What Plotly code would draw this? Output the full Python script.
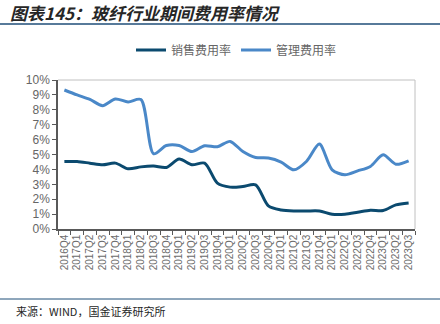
import plotly.graph_objects as go

quarters = ["2016Q4",
            "2017Q1", "2017Q2", "2017Q3", "2017Q4",
            "2018Q1", "2018Q2", "2018Q3", "2018Q4",
            "2019Q1", "2019Q2", "2019Q3", "2019Q4",
            "2020Q1", "2020Q2", "2020Q3", "2020Q4",
            "2021Q1", "2021Q2", "2021Q3", "2021Q4",
            "2022Q1", "2022Q2", "2022Q3", "2022Q4",
            "2023Q1", "2023Q2", "2023Q3"]

sales_rate = [4.53, 4.53, 4.42, 4.31, 4.42, 4.04, 4.17, 4.22, 4.13, 4.69,
              4.31, 4.42, 3.08, 2.81, 2.85, 2.96, 1.55, 1.28, 1.21, 1.21,
              1.21, 0.99, 0.99, 1.12, 1.26, 1.24, 1.62, 1.75]

mgmt_rate = [9.33, 9.0, 8.7, 8.28, 8.73, 8.53, 8.69, 5.05, 5.6, 5.6,
             5.2, 5.59, 5.52, 5.88, 5.2, 4.8, 4.76, 4.49, 3.97, 4.55,
             5.7, 3.97, 3.64, 3.9, 4.2, 4.98, 4.35, 4.58]

y_ticks = [0, 1, 2, 3, 4, 5, 6, 7, 8, 9, 10]
y_tick_labels = [f"{v}%" for v in y_ticks]

title_text = "图表145：玻纤行业期间费用率情况"
source_text = "来源：WIND，国金证券研究所"

W, H = 440, 324
L, R, T, B = 58, 25, 80, 95
pw, ph = W - L - R, H - T - B


def px(x):
    return (x - L) / pw


def py(y):
    return (H - B - y) / ph


fig = go.Figure()
fig.add_trace(go.Scatter(x=quarters, y=sales_rate, name="销售费用率", mode="lines",
                         line=dict(color="#0b4a6f", width=3, shape="spline", smoothing=0.8)))
fig.add_trace(go.Scatter(x=quarters, y=mgmt_rate, name="管理费用率", mode="lines",
                         line=dict(color="#4a88c8", width=3, shape="spline", smoothing=0.8)))

fig.update_layout(
    width=W, height=H,
    margin=dict(l=L, r=R, t=T, b=B),
    paper_bgcolor="white", plot_bgcolor="white",
    font=dict(family="Liberation Sans, Arial, sans-serif", color="#595959"),
    showlegend=True,
    legend=dict(orientation="h", x=0.5, xanchor="center", xref="paper",
                y=py(50), yanchor="middle",
                font=dict(family="Noto Sans CJK SC", size=12, color="#666666"),
                itemwidth=30, tracegroupgap=0, bgcolor="rgba(0,0,0,0)"),
    xaxis=dict(type="category", tickangle=-90,
               tickfont=dict(size=10, color="#6b6b6b"),
               showline=True, linecolor="#595959", linewidth=1.5,
               ticks="outside", ticklen=4, tickcolor="#595959",
               tickson="boundaries", showgrid=False, mirror=False,
               range=[-0.5, len(quarters) - 0.5]),
    yaxis=dict(range=[0, 10], tickvals=y_ticks, ticktext=y_tick_labels,
               tickfont=dict(size=12, color="#666666"),
               showline=True, linecolor="#595959", linewidth=1.5,
               ticks="outside", ticklen=4, tickcolor="#595959",
               showgrid=False, zeroline=False),
)

# light frame on top and right
fig.add_shape(type="line", xref="paper", yref="paper", x0=0, x1=1, y0=1, y1=1,
              line=dict(color="#c0c0c0", width=1))
fig.add_shape(type="line", xref="paper", yref="paper", x0=1, x1=1, y0=0, y1=1,
              line=dict(color="#c0c0c0", width=1))

# title rule and footer rule
fig.add_shape(type="line", xref="paper", yref="paper", x0=px(0), x1=px(440),
              y0=py(24), y1=py(24), line=dict(color="#1f4e79", width=1.5))
fig.add_shape(type="line", xref="paper", yref="paper", x0=px(0), x1=px(440),
              y0=py(299), y1=py(299), line=dict(color="#1f4e79", width=1))

fig.add_annotation(text="<b><i>" + title_text + "</i></b>", xref="paper", yref="paper",
                   x=px(8), y=py(12), xanchor="left", yanchor="middle", showarrow=False,
                   font=dict(family="Noto Sans CJK SC", size=17, color="#262626"))
fig.add_annotation(text=source_text, xref="paper", yref="paper",
                   x=px(14), y=py(311), xanchor="left", yanchor="middle", showarrow=False,
                   font=dict(family="Noto Sans CJK SC", size=11, color="#262626"))

fig.write_html("out.html")
